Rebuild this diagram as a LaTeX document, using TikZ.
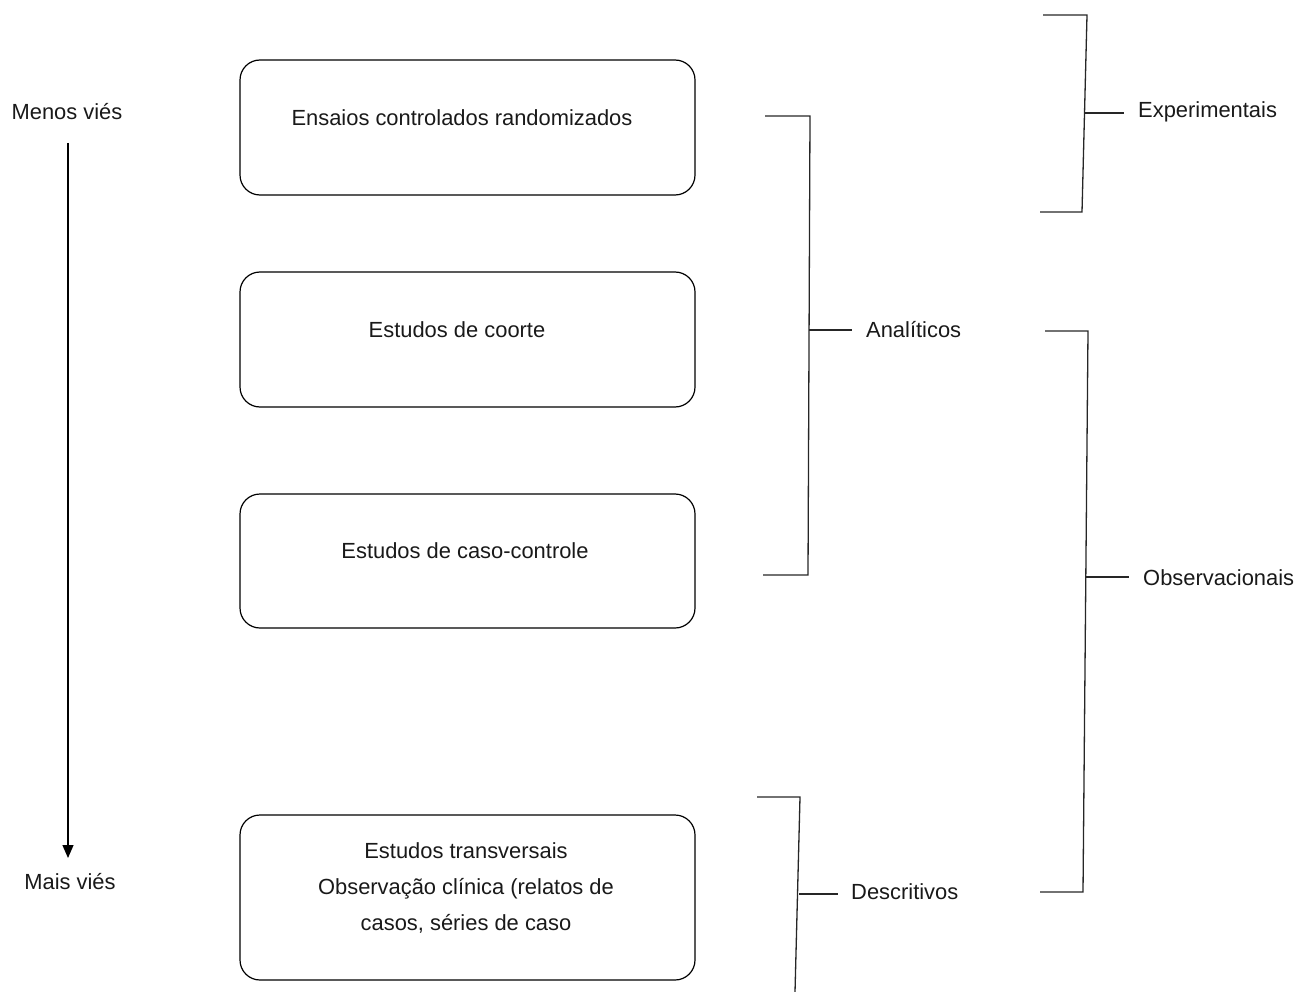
\documentclass[tikz,border=0pt]{standalone}
\usepackage{fontspec}
\setmainfont{Liberation Sans}
\usetikzlibrary{arrows.meta}
\begin{document}
\begin{tikzpicture}[x=1pt,y=-1pt,
  studybox/.style={draw=black, line width=1.2pt, rounded corners=20pt,
    minimum width=455pt, inner sep=0pt},
  txt/.style={font=\fontsize{21.9}{36}\selectfont, text=black!90, inner sep=0pt, align=center},
  brk/.style={line width=1.3pt, draw=black!85}]
\useasboundingbox (0,0) rectangle (1295,992);

% study design boxes
\node[studybox, minimum height=135pt] (b1) at (467.5,127.5) {};
\node[studybox, minimum height=135pt] (b2) at (467.5,339.5) {};
\node[studybox, minimum height=134pt] (b3) at (467.5,561) {};
\node[studybox, minimum height=165pt] (b4) at (467.5,897.5) {};
\node[txt] (t1) at (462,118) {Ensaios controlados randomizados};
\node[txt] (t2) at (457,330) {Estudos de coorte};
\node[txt] (t3) at (465,551) {Estudos de caso-controle};
\node[txt] (t4) at (466,888) {Estudos transversais\\Observação clínica (relatos de\\casos, séries de caso};

% bias axis
\node[txt] (menos) at (67,112) {Menos viés};
\node[txt] (mais) at (70,882) {Mais viés};
\coordinate (axtop) at (68,143);
\coordinate (axbot) at (68,858);
\draw[line width=1.3pt, -{Triangle[length=13pt,width=11pt]}] (axtop) -- (axbot);

% Analíticos bracket
\node[txt, anchor=west] (anal) at (866,330) {Analíticos};
\coordinate (a1) at (765,116);
\coordinate (a2) at (810,116);
\coordinate (a3) at (808,575);
\coordinate (a4) at (763,575);
\coordinate (am) at (809,330);
\draw[brk] (a1) -- (a2) -- (a3) -- (a4);
\draw[brk] (am) -- ([xshift=-14pt]am -| anal.west);

% Experimentais bracket
\node[txt, anchor=west] (expe) at (1138,112) {Experimentais};
\coordinate (e1) at (1043,15);
\coordinate (e2) at (1087,15);
\coordinate (e3) at (1082,212);
\coordinate (e4) at (1040,212);
\coordinate (em) at (1085,113);
\draw[brk] (e1) -- (e2) -- (e3) -- (e4);
\draw[brk] (em) -- ([xshift=-14pt]em -| expe.west);

% Observacionais bracket
\node[txt, anchor=west] (obse) at (1143,578) {Observacionais};
\coordinate (o1) at (1045,331);
\coordinate (o2) at (1088,331);
\coordinate (o3) at (1083,892);
\coordinate (o4) at (1040,892);
\coordinate (om) at (1086,577);
\draw[brk] (o1) -- (o2) -- (o3) -- (o4);
\draw[brk] (om) -- ([xshift=-14pt]om -| obse.west);

% Descritivos bracket
\node[txt, anchor=west] (desc) at (851,892) {Descritivos};
\coordinate (d1) at (757,797);
\coordinate (d2) at (800,797);
\coordinate (d3) at (795,992);
\coordinate (dm) at (799,894);
\draw[brk] (d1) -- (d2) -- (d3);
\draw[brk] (dm) -- ([xshift=-13pt]dm -| desc.west);
\end{tikzpicture}
\end{document}
